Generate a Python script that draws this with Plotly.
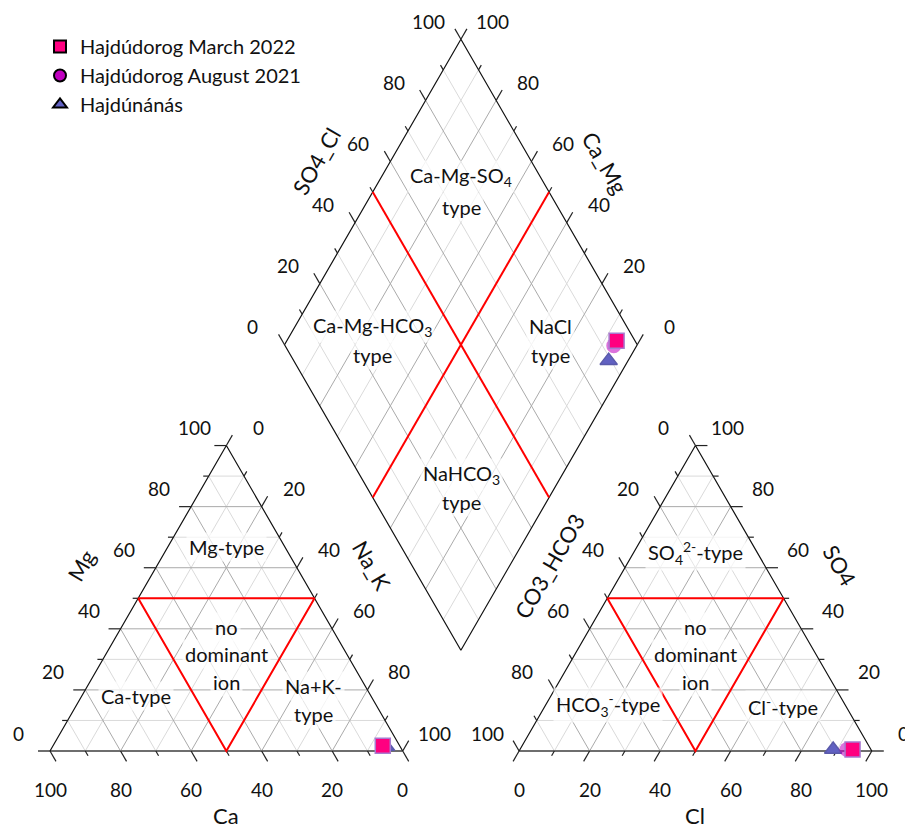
import numpy as np
import plotly.graph_objects as go

FONT = "Lato"

# Sample compositions in meq% (cations / anions)
samples = ["Hajdúdorog March 2022", "Hajdúdorog August 2021", "Hajdúnánás"]
ca = [4.8, 4.8, 4.0]
mg = [1.7, 1.7, 1.5]
na_k = [93.5, 93.5, 94.5]
co3_hco3 = [5.2, 6.8, 10.7]
so4 = [0.5, 0.5, 0.5]
cl = [94.3, 92.7, 88.8]

tick_values = list(range(0, 101, 10))
label_values = [0, 20, 40, 60, 80, 100]

# Marker styles per sample
sym = ["square", "circle", "triangle-up"]
fill = ["#ff0080", "#c000c0", "#6161c2"]
plot_line = ["#a77bd0", "rgba(0,0,0,0)", "#5a5aaa"]
plot_opacity = [1.0, 0.55, 1.0]

# ---- geometry of the Piper layout (data units, 100 = one side) ----
GAP = 33.0
H = np.sqrt(3) / 2
XR = 100 + GAP
BX, BY = 100 + GAP / 2, GAP / 2 * np.sqrt(3)

PX = 3.527  # pixels per data unit
OX, OY = 50, 751  # pixel position of the data origin
W, HGT = 905, 829


def px(x, y):
    """pixel position -> data coordinates"""
    return (x - OX) / PX, (OY - y) / PX


def left_xy(c, m, n):
    return n + m / 2, m * H


def right_xy(h, s, c):
    return XR + c + s / 2, s * H


def dia_xy(a, c):
    return BX + (a - c) / 2, BY + (a + c) * H


class Segs:
    def __init__(self):
        self.x, self.y = [], []

    def add(self, *pts):
        for p in pts:
            self.x.append(p[0])
            self.y.append(p[1])
        self.x.append(None)
        self.y.append(None)


grid_major, grid_minor = Segs(), Segs()
for k in range(10, 100, 10):
    g = grid_major if k % 20 == 0 else grid_minor
    g.add(left_xy(100 - k, k, 0), left_xy(0, k, 100 - k))
    g.add(left_xy(100 - k, 0, k), left_xy(0, 100 - k, k))
    g.add(left_xy(k, 0, 100 - k), left_xy(k, 100 - k, 0))
    g.add(right_xy(100 - k, k, 0), right_xy(0, k, 100 - k))
    g.add(right_xy(100 - k, 0, k), right_xy(0, 100 - k, k))
    g.add(right_xy(k, 0, 100 - k), right_xy(k, 100 - k, 0))
    g.add(dia_xy(k, 0), dia_xy(k, 100))
    g.add(dia_xy(0, k), dia_xy(100, k))

# ticks: gridline extensions beyond the edges
ticks = Segs()
base = Segs()
TMAJ, TMIN = 12 / PX, 5.5 / PX


def tick(p, d, k, seg=ticks):
    ln = TMAJ if k % 20 == 0 else TMIN
    seg.add(p, (p[0] + d[0] * ln, p[1] + d[1] * ln))


for k in tick_values:
    tick(left_xy(100 - k, k, 0), (-1, 0), k, base if k == 0 else ticks)
    tick(left_xy(0, 100 - k, k), (0.5, H), k)
    tick(left_xy(k, 0, 100 - k), (0.5, -H), k)
    tick(right_xy(0, k, 100 - k), (1, 0), k, base if k == 0 else ticks)
    tick(right_xy(100 - k, 0, k), (-0.5, -H), k)
    tick(right_xy(k, 100 - k, 0), (-0.5, H), k)
    tick(dia_xy(k, 100), (-0.5, H), k)
    tick(dia_xy(100, k), (0.5, H), k)

edges = Segs()
edges.add(left_xy(100, 0, 0), left_xy(0, 100, 0), left_xy(0, 0, 100))
edges.add(right_xy(100, 0, 0), right_xy(0, 100, 0), right_xy(0, 0, 100))
edges.add(dia_xy(0, 0), dia_xy(100, 0), dia_xy(100, 100), dia_xy(0, 100), dia_xy(0, 0))
base.add(left_xy(100, 0, 0), left_xy(0, 0, 100))
base.add(right_xy(100, 0, 0), right_xy(0, 0, 100))

red = Segs()
red.add(left_xy(50, 50, 0), left_xy(0, 50, 50), left_xy(50, 0, 50), left_xy(50, 50, 0))
red.add(right_xy(50, 50, 0), right_xy(0, 50, 50), right_xy(50, 0, 50), right_xy(50, 50, 0))
red.add(dia_xy(50, 0), dia_xy(50, 100))
red.add(dia_xy(0, 50), dia_xy(100, 50))

fig = go.Figure()


def lines(seg, color, width):
    fig.add_trace(go.Scatter(x=seg.x, y=seg.y, mode="lines", hoverinfo="skip",
                             line=dict(color=color, width=width), showlegend=False))


lines(grid_minor, "#dadada", 1)
lines(grid_major, "#aaaaaa", 1)
lines(base, "#6e6e6e", 2)
lines(edges, "#111111", 1.2)
lines(ticks, "#222222", 1.2)
lines(red, "#ff0000", 2)

# ---- sample points ----
for i in [2, 1, 0]:
    lx, ly = left_xy(ca[i], mg[i], na_k[i])
    rx, ry = right_xy(co3_hco3[i], so4[i], cl[i])
    dx, dy = dia_xy(cl[i] + so4[i], ca[i] + mg[i])
    fig.add_trace(go.Scatter(
        x=[lx, rx, dx], y=[ly, ry, dy], mode="markers", name=samples[i],
        marker=dict(symbol=sym[i], size=15, color=fill[i], opacity=plot_opacity[i],
                    line=dict(color=plot_line[i], width=1.5)),
        showlegend=False))

for i in range(3):
    fig.add_trace(go.Scatter(
        x=[None], y=[None], mode="markers", name=samples[i],
        marker=dict(symbol=sym[i], size=16, color=fill[i], line=dict(color="#000000", width=1))))

# ---- text ----
ann = []
TF = dict(family=FONT, size=19, color="#111111")
DX, DY = 32 / PX, 18 / PX


def text(x, y, s, font=TF, angle=0, bg=None):
    d = dict(x=x, y=y, xref="x", yref="y", text=s, showarrow=False, font=font,
             textangle=angle, xanchor="center", yanchor="middle")
    if bg:
        d["bgcolor"] = bg
        d["borderpad"] = 2
    ann.append(d)


for v in label_values:
    p = left_xy(100 - v, v, 0); text(p[0] - DX, p[1] + DY, str(v))
    p = left_xy(0, 100 - v, v); text(p[0] + DX, p[1] + DY, str(v))
    p = left_xy(v, 0, 100 - v); text(p[0], -38 / PX, str(v))
    p = right_xy(v, 100 - v, 0); text(p[0] - DX, p[1] + DY, str(v))
    p = right_xy(0, v, 100 - v); text(p[0] + DX, p[1] + DY, str(v))
    p = right_xy(100 - v, 0, v); text(p[0], -38 / PX, str(v))
    p = dia_xy(v, 100); text(p[0] - DX, p[1] + DY, str(v))
    p = dia_xy(100, v); text(p[0] + DX, p[1] + DY, str(v))

AF = dict(family=FONT, size=22, color="#111111")
for (x, y, s, a) in [(316, 161, "SO4_Cl", -60), (605, 162, "Ca_Mg", 60),
                     (81, 565, "Mg", -60), (372, 565, "Na_K", 60), (226, 815, "Ca", 0),
                     (549, 566, "CO3_HCO3", -60), (840, 565, "SO4", 60), (695, 815, "Cl", 0)]:
    text(*px(x, y), s, font=AF, angle=a)

RF = dict(family=FONT, size=20, color="#111111")
BG = "rgba(255,255,255,0.7)"
for (x, y, s) in [(226, 547, "Mg-type"), (226, 627, "no"), (226, 654, "dominant"),
                  (226, 682, "ion"), (136, 696, "Ca-type"), (313, 686, "Na+K-"),
                  (313, 714, "type"),
                  (695, 553, "SO<sub>4</sub><sup>2-</sup>-type"), (695, 627, "no"),
                  (695, 654, "dominant"), (695, 682, "ion"),
                  (608, 705, "HCO<sub>3</sub><sup>-</sup>-type"),
                  (783, 706, "Cl<sup>-</sup>-type"),
                  (461, 176, "Ca-Mg-SO<sub>4</sub>"), (461, 207, "type"),
                  (372, 326, "Ca-Mg-HCO<sub>3</sub>"), (372, 355, "type"),
                  (550, 326, "NaCl"), (550, 355, "type"),
                  (461, 474, "NaHCO<sub>3</sub>"), (461, 502, "type")]:
    text(*px(x, y), s, font=RF, bg=BG)

x0, y1 = px(0, 0)
x1, y0 = px(W, HGT)

fig.update_layout(
    width=W, height=HGT, margin=dict(l=0, r=0, t=0, b=0),
    paper_bgcolor="white", plot_bgcolor="white",
    xaxis=dict(range=[x0, x1], visible=False, fixedrange=True),
    yaxis=dict(range=[y0, y1], visible=False, fixedrange=True),
    annotations=ann,
    legend=dict(x=40 / W, y=1 - 27 / HGT, xanchor="left", yanchor="top",
                font=dict(family=FONT, size=20, color="#111111"),
                bgcolor="rgba(0,0,0,0)", itemsizing="constant", tracegroupgap=0),
    showlegend=True,
)

fig.write_html("out.html")
